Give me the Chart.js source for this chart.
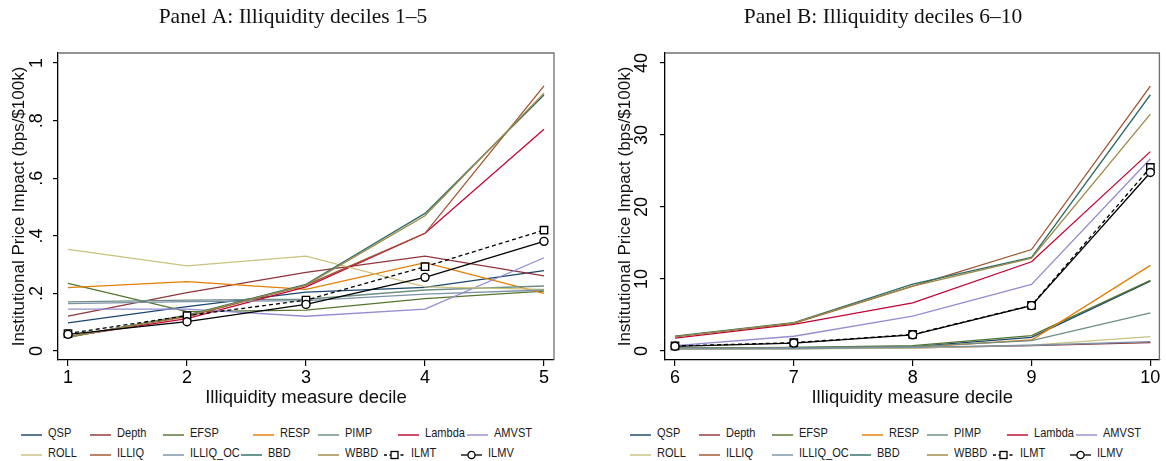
<!DOCTYPE html>
<html>
<head>
<meta charset="utf-8">
<script src="https://cdn.jsdelivr.net/npm/chart.js@4.4.1/dist/chart.umd.min.js"></script>
<style>
  body { margin: 0; background: #fff; width: 1166px; height: 461px; overflow: hidden; position: relative;
         font-family: "Liberation Sans", Arial, sans-serif; }
  .panel { position: absolute; top: 0; width: 583px; height: 410px; }
  .key { position: absolute; }
  .lab { position: absolute; font-size: 13px; color: #1a1a1a; line-height: 14px; white-space: nowrap;
         transform: scaleX(0.85); transform-origin: left center; }
</style>
</head>
<body>
<div class="panel" style="left:0"><canvas id="panelA"></canvas></div>
<div class="panel" style="left:583px"><canvas id="panelB"></canvas></div>
<div id="legend"></div>
<script>
// deciles on the x axis
const decilesA = [1, 2, 3, 4, 5];
const decilesB = [6, 7, 8, 9, 10];

// y axis ticks (Stata style labels)
const yTicksA = [0, 0.2, 0.4, 0.6, 0.8, 1];
const yLabelsA = ["0", ".2", ".4", ".6", ".8", "1"];
const yTicksB = [0, 10, 20, 30, 40];
const yLabelsB = ["0", "10", "20", "30", "40"];

const measures = ["QSP", "Depth", "EFSP", "RESP", "PIMP", "Lambda", "AMVST",
                  "ROLL", "ILLIQ", "ILLIQ_OC", "BBD", "WBBD", "ILMT", "ILMV"];

// Panel A: deciles 1-5 (bps/$100k)
const QSP_A      = [0.098, 0.154, 0.205, 0.221, 0.279];
const Depth_A    = [0.121, 0.203, 0.273, 0.330, 0.261];
const EFSP_A     = [0.235, 0.137, 0.142, 0.182, 0.208];
const RESP_A     = [0.220, 0.241, 0.214, 0.307, 0.200];
const PIMP_A     = [0.171, 0.177, 0.180, 0.212, 0.226];
const Lambda_A   = [0.050, 0.113, 0.223, 0.409, 0.770];
const AMVST_A    = [0.146, 0.146, 0.121, 0.146, 0.324];
const ROLL_A     = [0.353, 0.296, 0.330, 0.223, 0.214];
const ILLIQ_A    = [0.050, 0.120, 0.229, 0.409, 0.921];
const ILLIQ_OC_A = [0.165, 0.172, 0.175, 0.198, 0.212];
const BBD_A      = [0.048, 0.125, 0.232, 0.478, 0.889];
const WBBD_A     = [0.048, 0.123, 0.229, 0.470, 0.895];
const ILMT_A     = [0.061, 0.123, 0.177, 0.293, 0.420];
const ILMV_A     = [0.058, 0.102, 0.162, 0.256, 0.381];

// Panel B: deciles 6-10 (bps/$100k)
const QSP_B      = [0.35, 0.45, 0.60, 1.90, 9.70];
const Depth_B    = [0.30, 0.35, 0.45, 0.74, 1.16];
const EFSP_B     = [0.40, 0.50, 0.75, 2.13, 9.80];
const RESP_B     = [0.30, 0.40, 0.50, 1.53, 11.9];
const PIMP_B     = [0.35, 0.45, 0.60, 1.45, 5.30];
const Lambda_B   = [1.80, 3.70, 6.70, 12.4, 27.7];
const AMVST_B    = [0.75, 2.05, 4.86, 9.26, 26.7];
const ROLL_B     = [0.25, 0.30, 0.40, 0.83, 1.99];
const ILLIQ_B    = [2.00, 3.85, 9.00, 14.1, 36.8];
const ILLIQ_OC_B = [0.30, 0.35, 0.50, 0.80, 1.30];
const BBD_B      = [2.05, 3.95, 9.30, 13.0, 35.6];
const WBBD_B     = [2.00, 3.90, 9.00, 12.9, 32.9];
const ILMT_B     = [0.70, 1.15, 2.30, 6.35, 25.5];
const ILMV_B     = [0.65, 1.10, 2.25, 6.30, 24.8];

const seriesA = [QSP_A, Depth_A, EFSP_A, RESP_A, PIMP_A, Lambda_A, AMVST_A,
                 ROLL_A, ILLIQ_A, ILLIQ_OC_A, BBD_A, WBBD_A, ILMT_A, ILMV_A];
const seriesB = [QSP_B, Depth_B, EFSP_B, RESP_B, PIMP_B, Lambda_B, AMVST_B,
                 ROLL_B, ILLIQ_B, ILLIQ_OC_B, BBD_B, WBBD_B, ILMT_B, ILMV_B];

// stata s2color palette
const colors = ["#1a476f", "#90353b", "#55752f", "#e37e00", "#6e8e84", "#c10534", "#938dd2",
                "#cac27e", "#a0522d", "#7b92a8", "#2d6d66", "#9c8847", "#000000", "#000000"];

const SANS = '"Liberation Sans", Arial, sans-serif';
const SERIF = '"Liberation Serif", "Times New Roman", serif';

// box, rotated y labels and panel title
const stataPlugin = {
  id: "stata",
  afterDraw(chart, args, opts) {
    const { ctx, chartArea: a } = chart;
    const y = chart.scales.y;
    ctx.save();
    ctx.strokeStyle = "#707070";
    ctx.lineWidth = 1.3;
    ctx.beginPath();
    ctx.moveTo(a.left, a.top);
    ctx.lineTo(a.right, a.top);
    ctx.lineTo(a.right, a.bottom);
    ctx.stroke();

    ctx.fillStyle = "#000";
    ctx.font = "18px " + SANS;
    ctx.textAlign = "center";
    ctx.textBaseline = "middle";
    y.ticks.forEach((t, i) => {
      ctx.save();
      ctx.translate(opts.labelX, y.getPixelForValue(t.value));
      ctx.rotate(-Math.PI / 2);
      ctx.fillText(opts.labels[i], 0, 0);
      ctx.restore();
    });

    ctx.font = "21.5px " + SERIF;
    ctx.fillStyle = "#111";
    ctx.fillText(opts.title, opts.titleX, opts.titleY);
    ctx.restore();
  }
};

function makeDatasets(xs, series) {
  return series.map((vals, i) => {
    const name = measures[i];
    const ds = {
      label: name,
      data: xs.map((x, j) => ({ x: x, y: vals[j] })),
      borderColor: colors[i],
      borderWidth: 1.3,
      pointRadius: 0,
      tension: 0,
      order: measures.length - i
    };
    if (name === "ILMT") {
      ds.borderDash = [4, 3];
      ds.pointStyle = "rect";
      ds.pointRadius = 5.2;
      ds.pointBorderWidth = 1.4;
      ds.pointBackgroundColor = "#fff";
      ds.pointBorderColor = "#000";
    }
    if (name === "ILMV") {
      ds.pointStyle = "circle";
      ds.pointRadius = 4;
      ds.pointBorderWidth = 1.4;
      ds.pointBackgroundColor = "#fff";
      ds.pointBorderColor = "#000";
    }
    return ds;
  });
}

function makePanel(id, xs, series, xTicks, xMin, xMax, yTicks, yLabels, yMin, yMax, cfg) {
  new Chart(document.getElementById(id), {
    type: "line",
    data: { datasets: makeDatasets(xs, series) },
    plugins: [stataPlugin],
    options: {
      responsive: true,
      maintainAspectRatio: false,
      animation: false,
      layout: { padding: { left: 0, top: 53, right: cfg.padRight, bottom: 0 } },
      plugins: {
        legend: { display: false },
        tooltip: { enabled: false },
        stata: { labels: yLabels, labelX: cfg.labelX, title: cfg.title, titleX: cfg.titleX, titleY: 17 }
      },
      scales: {
        x: {
          type: "linear", min: xMin, max: xMax,
          afterBuildTicks: s => { s.ticks = xTicks.map(v => ({ value: v })); },
          ticks: { color: "#000", font: { family: SANS, size: 18 }, padding: 1 },
          grid: { drawOnChartArea: false, drawTicks: true, tickLength: 6, color: "#000", lineWidth: 1.2 },
          border: { color: "#000", width: 1.3 },
          title: { display: true, text: "Illiquidity measure decile", color: "#111",
                   font: { family: SANS, size: 18.5 }, padding: { top: 0, bottom: 1 } },
          afterFit: s => { s.height = 50; }
        },
        y: {
          type: "linear", min: yMin, max: yMax,
          afterBuildTicks: s => { s.ticks = yTicks.map(v => ({ value: v })); },
          ticks: { display: false },
          grid: { drawOnChartArea: false, drawTicks: true, tickLength: 5, color: "#000", lineWidth: 1.2 },
          border: { color: "#000", width: 1.3 },
          title: { display: true, text: "Institutional Price Impact (bps/$100k)", color: "#111",
                   font: { family: SANS, size: 17 }, padding: { top: cfg.yTitlePad, bottom: 0 } },
          afterFit: s => { s.width = cfg.yWidth; }
        }
      }
    }
  });
}

makePanel("panelA", decilesA, seriesA, decilesA, 0.916, 5.084, yTicksA, yLabelsA, -0.031, 1.035,
  { padRight: 29, yWidth: 58, labelX: 37, yTitlePad: 8.8, title: "Panel A: Illiquidity deciles 1\u20135", titleX: 293 });
makePanel("panelB", decilesB, seriesB, decilesB, 5.916, 10.076, yTicksB, yLabelsB, -1.25, 41.4,
  { padRight: 5, yWidth: 82, labelX: 59, yTitlePad: 32.3, title: "Panel B: Illiquidity deciles 6\u201310", titleX: 300 });

// legends (two rows of seven under each panel); panel B sits 609px to the right
const legendTextX = [[48, 117, 190, 280, 345, 425, 494], [48, 117, 190, 268, 345, 411, 488]];
const panelShift = { A: 0, B: 609 };
const rowY = [433, 453];

function keySvg(i) {
  const c = colors[i];
  const name = measures[i];
  let s = '<svg width="21" height="12" xmlns="http://www.w3.org/2000/svg">';
  if (name === "ILMT") {
    s += '<line x1="0" y1="6" x2="21" y2="6" stroke="#000" stroke-width="1.3" stroke-dasharray="3,2.5"/>';
    s += '<rect x="7" y="2.5" width="7" height="7" fill="#fff" stroke="#000" stroke-width="1.3"/>';
  } else if (name === "ILMV") {
    s += '<line x1="0" y1="6" x2="21" y2="6" stroke="#000" stroke-width="1.3"/>';
    s += '<circle cx="10.5" cy="6" r="3.6" fill="#fff" stroke="#000" stroke-width="1.3"/>';
  } else {
    s += '<line x1="0" y1="6" x2="21" y2="6" stroke="' + c + '" stroke-width="1.8" stroke-opacity="0.8"/>';
  }
  return s + "</svg>";
}

const legend = document.getElementById("legend");
["A", "B"].forEach(p => {
  legendTextX.forEach((row, r) => {
    row.forEach((x0, k) => {
      const i = r * 7 + k;
      const tx = x0 + panelShift[p];
      const key = document.createElement("div");
      key.className = "key";
      key.style.left = (tx - 27) + "px";
      key.style.top = (rowY[r] - 6) + "px";
      key.innerHTML = keySvg(i);
      legend.appendChild(key);
      const lab = document.createElement("div");
      lab.className = "lab";
      lab.style.left = tx + "px";
      lab.style.top = (rowY[r] - 7) + "px";
      lab.textContent = measures[i];
      legend.appendChild(lab);
    });
  });
});
</script>
</body>
</html>
